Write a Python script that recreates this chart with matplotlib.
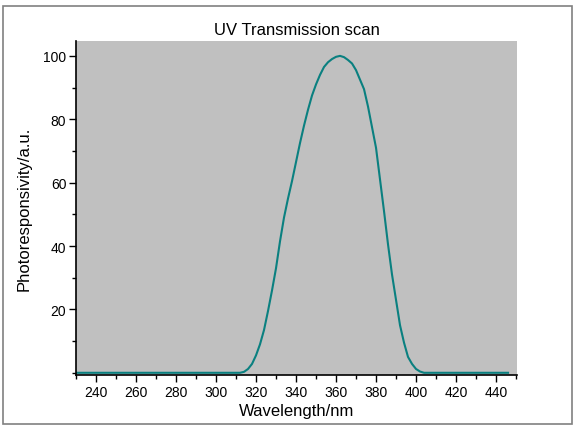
"""UV transmission scan: photoresponsivity vs wavelength."""

import matplotlib
matplotlib.use("Agg")
import matplotlib.pyplot as plt
from matplotlib.patches import Rectangle
from matplotlib.ticker import MultipleLocator

plt.rcParams["font.family"] = ["Liberation Sans", "DejaVu Sans"]

# wavelength (nm) and photoresponsivity (a.u.)
wavelength = [230, 250, 270, 290, 300, 308, 312, 314, 316, 318, 320, 322, 324,
              326, 328, 330, 332, 334, 336, 338, 340, 342, 344, 346, 348, 350,
              352, 354, 356, 358, 360, 362, 364, 366, 368, 370, 372, 374, 376,
              378, 380, 382, 384, 386, 388, 390, 392, 394, 396, 398, 400, 402,
              404, 410, 420, 430, 440, 446]
response = [0, 0, 0, 0, 0, 0, 0, 0.3, 1.2, 2.8, 5.5, 9.0, 13.5,
            19.5, 26.0, 33.0, 41.5, 49.0, 55.0, 60.5, 66.5, 72.5, 78.0, 83.0, 87.5, 91.0,
            94.0, 96.5, 98.0, 99.0, 99.7, 100.0, 99.6, 98.7, 97.6, 95.5, 92.5, 89.5, 84.0,
            77.5, 71.0, 61.0, 51.0, 40.5, 31.0, 23.0, 15.0, 9.5, 5.0, 2.8, 1.2, 0.4,
            0, 0, 0, 0, 0, 0]

fig = plt.figure(figsize=(5.78, 4.31), dpi=100)
ax = fig.add_axes([0.1315, 0.1276, 0.763, 0.775])
ax.set_facecolor("#c0c0c0")

ax.plot(wavelength, response, color="#0a8080", lw=1.5)

ax.set_xlim(230, 450.5)
ax.set_ylim(-0.7, 104.7)
ax.set_xticks(range(240, 441, 20))
ax.xaxis.set_minor_locator(MultipleLocator(10))
ax.set_yticks([20, 40, 60, 80, 100])
ax.yaxis.set_minor_locator(MultipleLocator(10))
ax.tick_params(direction="out", length=5, width=1, labelsize=10, pad=2)
ax.tick_params(which="minor", direction="out", length=3, width=1)

for side in ["top", "right"]:
    ax.spines[side].set_visible(False)
for side in ["left", "bottom"]:
    ax.spines[side].set_linewidth(1.2)

ax.set_title("UV Transmission scan", fontsize=12, pad=5)
ax.set_xlabel("Wavelength/nm", fontsize=12, labelpad=3)
ax.set_ylabel("Photoresponsivity/a.u.", fontsize=12, labelpad=8)

# thin grey frame around the whole graph page
fig.patches.append(Rectangle((3 / 578, 6 / 431), 569 / 578, 418 / 431,
                             transform=fig.transFigure, fill=False,
                             edgecolor="#808080", lw=1.2))

fig.savefig("out.png", dpi=100)
